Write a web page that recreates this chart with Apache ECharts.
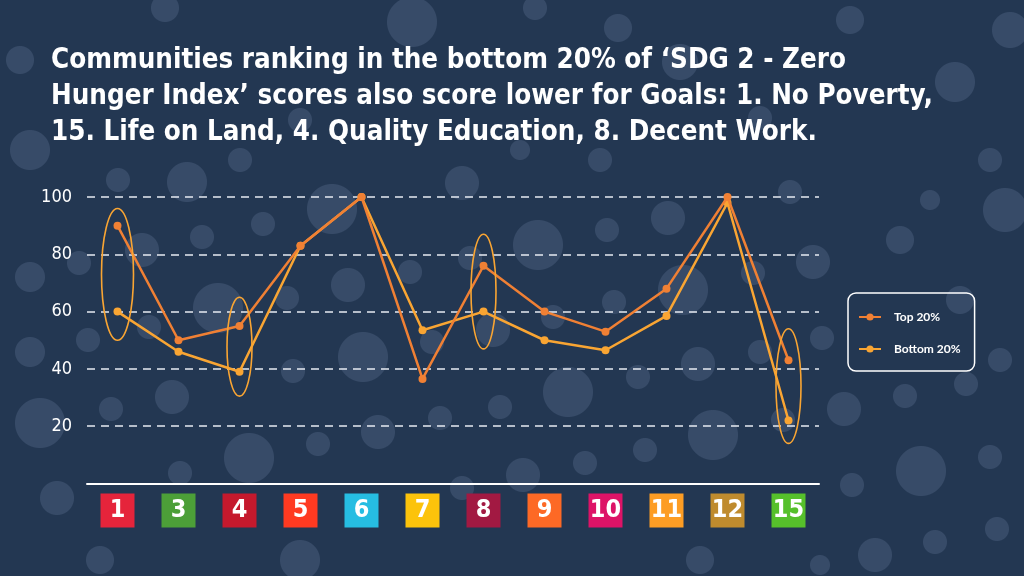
<!DOCTYPE html>
<html>
<head>
<meta charset="utf-8">
<script src="https://cdn.jsdelivr.net/npm/echarts@6/dist/echarts.min.js"></script>
<style>
html,body{margin:0;padding:0;width:1024px;height:576px;overflow:hidden;background-color:#233752;}
#chart{width:1024px;height:576px;}
</style>
</head>
<body>
<div id="chart"></div>
<script>
// ---- data ----
var categories = ['1','3','4','5','6','7','8','9','10','11','12','15'];
var sdgColors = ['#E5243B','#4C9F38','#C5192D','#FF3A21','#26BDE2','#FCC30B','#A21942','#FD6925','#DD1367','#FD9D24','#BF8B2E','#56C02B'];
var topValues = [90, 50, 55, 83, 100, 36.5, 76, 60, 53, 68, 100, 43];
var bottomValues = [60, 46, 39, 83, 100, 53.5, 60, 50, 46.5, 58.5, 98, 22];
var yTicks = [20, 40, 60, 80, 100];
// highlighted ranges: [category index, low value, high value]
var highlights = [[0, 50, 96], [2, 30.5, 65], [6, 47, 87], [11, 14, 54]];
var titleLines = [
  'Communities ranking in the bottom 20% of \u2018SDG 2 - Zero',
  'Hunger Index\u2019 scores also score lower for Goals: 1. No Poverty,',
  '15. Life on Land, 4. Quality Education, 8. Decent Work.'
];
// decorative background bubbles [x, y, r]
var bubbles = [
  [118,180,12],[187,182,20],[142,250,17],[79,263,12],[263,224,12],[202,237,12],[218,308,25],[332,209,25],
  [348,285,17],[30,277,15],[287,298,12],[149,327,12],[88,340,12],[30,352,15],[363,357,25],[293,371,12],
  [172,397,17],[111,409,12],[40,423,25],[378,432,17],[318,444,12],[249,458,25],[180,473,12],[57,498,17],
  [462,183,17],[538,245,25],[607,230,12],[668,218,17],[470,258,12],[410,272,12],[683,290,25],[614,302,12],
  [493,330,17],[432,342,12],[553,317,12],[813,262,17],[790,192,12],[753,273,12],[760,352,12],[698,364,17],
  [822,338,12],[638,377,12],[568,392,25],[500,407,12],[440,418,12],[713,435,25],[783,420,12],[645,450,12],
  [585,463,12],[523,475,17],[462,488,12],
  [844,409,17],[905,396,12],[966,384,12],[921,471,25],[990,457,12],[852,485,12],[997,529,12],[935,542,12],
  [875,555,17],[820,565,10],
  [412,22,25],[165,8,14],[535,8,12],[618,28,14],[680,62,18],[760,118,12],[955,82,20],[1005,210,22],
  [900,240,14],[990,160,12],[300,120,12],[30,150,20],[20,60,14],[240,160,12],[850,20,14],[1010,30,18],
  [960,300,14],[1000,360,12],[930,200,10],[100,560,14],[300,560,20],[700,560,14],[520,150,10],[600,160,12]
];

document.body.style.backgroundImage = bubbles.map(function(b){
  return 'radial-gradient(circle at ' + b[0] + 'px ' + b[1] + 'px, #374b68 ' + (b[2]-0.5) + 'px, rgba(55,75,104,0) ' + (b[2]+0.5) + 'px)';
}).join(',');

var chart = echarts.init(document.getElementById('chart'), null, {renderer:'canvas'});

var condensed = "'Liberation Sans Narrow','DejaVu Sans Condensed','Roboto',sans-serif";

var rich = {};
categories.forEach(function(c, i){
  rich['c' + i] = {
    backgroundColor: sdgColors[i],
    width: 34, height: 34, lineHeight: 34,
    align: 'center', verticalAlign: 'middle',
    color: '#ffffff', fontSize: 25, fontWeight: 'bold',
    fontFamily: condensed
  };
});

chart.setOption({
  backgroundColor: 'transparent',
  animation: false,
  title: {
    text: titleLines.join('\n'),
    left: 46, top: 38,
    textStyle: {
      color: '#ffffff', fontSize: 27.5, fontWeight: 'bold', lineHeight: 36,
      fontFamily: condensed
    }
  },
  legend: {
    data: ['Top 20%', 'Bottom 20%'],
    orient: 'vertical',
    left: 848, top: 293,
    padding: [17, 14, 15, 10],
    itemGap: 18,
    itemWidth: 22, itemHeight: 9,
    borderColor: '#ffffff', borderWidth: 1.5, borderRadius: 8,
    textStyle: { color: '#ffffff', fontSize: 12, fontWeight: 'bold', fontFamily: 'Lato, sans-serif', padding: [0,0,0,8], lineHeight: 14 }
  },
  grid: { left: 87, right: 205, top: 197, bottom: 92.5, containLabel: false },
  xAxis: {
    type: 'category',
    data: categories,
    boundaryGap: true,
    axisLine: { lineStyle: { color: '#ffffff', width: 2 } },
    axisTick: { alignWithLabel: true, length: 5, lineStyle: { color: '#ffffff', width: 1.5 } },
    axisLabel: {
      margin: 10,
      interval: 0,
      formatter: function(v, i){ return '{c' + i + '|' + v + '}'; },
      rich: rich
    }
  },
  yAxis: {
    type: 'value',
    min: 0, max: 100, interval: 20,
    axisLine: { show: false },
    axisTick: { show: false },
    axisLabel: {
      margin: 15,
      color: '#ffffff', fontSize: 18,
      fontFamily: condensed,
      formatter: function(v){ return yTicks.indexOf(v) >= 0 ? String(v) : ''; }
    },
    splitLine: { lineStyle: { color: '#e8ecf2', width: 1.5, type: [8, 6] } }
  },
  series: [
    {
      name: 'Bottom 20%',
      type: 'line',
      data: bottomValues,
      symbol: 'circle', symbolSize: 8,
      itemStyle: { color: '#F9A533' },
      lineStyle: { color: '#F9A533', width: 2.5 },
      z: 3
    },
    {
      name: 'Top 20%',
      type: 'line',
      data: topValues,
      symbol: 'circle', symbolSize: 8,
      itemStyle: { color: '#F08034' },
      lineStyle: { color: '#F08034', width: 2.5 },
      z: 4
    },
    {
      name: 'highlight',
      type: 'custom',
      data: highlights,
      z: 5,
      silent: true,
      renderItem: function(params, api){
        var lo = api.coord([api.value(0), api.value(1)]);
        var hi = api.coord([api.value(0), api.value(2)]);
        return {
          type: 'ellipse',
          shape: { cx: lo[0], cy: (lo[1] + hi[1]) / 2, rx: params.dataIndex === 0 ? 16 : 12.5, ry: Math.abs(lo[1] - hi[1]) / 2 },
          style: { fill: 'none', stroke: '#F9A533', lineWidth: 1.6 }
        };
      }
    }
  ]
});
</script>
</body>
</html>
